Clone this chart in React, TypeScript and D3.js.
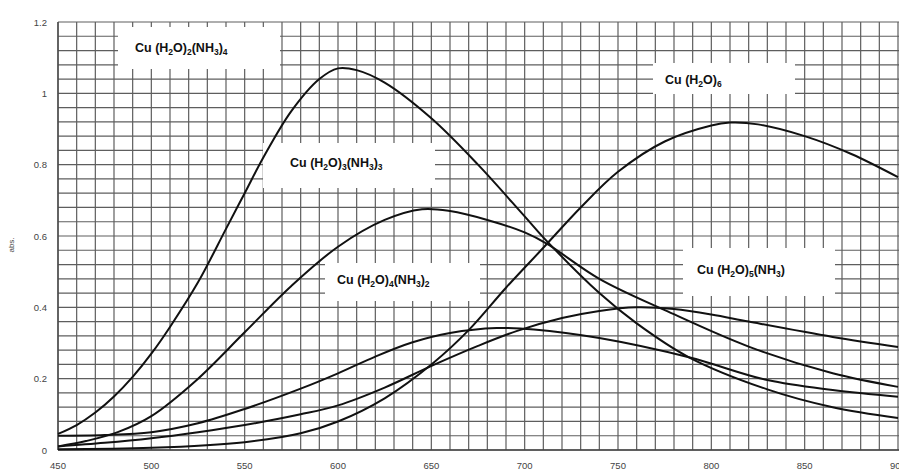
import React from 'react'
import * as d3 from 'd3'

// wavelength (nm) / absorbance pairs
const cuH2O2NH34: [number, number][] = [
  [450, 0.045], [460, 0.07], [470, 0.105], [480, 0.15], [490, 0.205], [500, 0.27],
  [510, 0.345], [525, 0.47], [540, 0.62], [550, 0.72], [560, 0.82], [575, 0.95],
  [590, 1.04], [600, 1.07], [610, 1.065], [625, 1.03], [650, 0.93], [675, 0.8],
  [700, 0.655], [712, 0.585], [740, 0.44], [760, 0.355], [788, 0.26], [830, 0.17],
  [865, 0.12], [900, 0.09],
]
const cuH2O3NH33: [number, number][] = [
  [450, 0.01], [465, 0.025], [482, 0.05], [500, 0.095], [524, 0.195], [550, 0.33],
  [575, 0.46], [600, 0.57], [625, 0.645], [645, 0.675], [660, 0.67], [680, 0.645],
  [700, 0.61], [712, 0.578], [740, 0.48], [776, 0.39], [820, 0.29], [865, 0.215], [900, 0.177],
]
const cuH2O4NH32: [number, number][] = [
  [450, 0.04], [475, 0.042], [500, 0.05], [525, 0.075], [550, 0.115], [580, 0.172],
  [600, 0.215], [620, 0.262], [640, 0.302], [660, 0.328], [685, 0.342], [705, 0.338],
  [740, 0.314], [788, 0.26], [830, 0.196], [865, 0.168], [900, 0.149],
]
const cuH2O5NH3: [number, number][] = [
  [450, 0.01], [475, 0.02], [500, 0.033], [525, 0.05], [550, 0.07], [580, 0.1],
  [600, 0.125], [625, 0.175], [651, 0.238], [675, 0.292], [696, 0.334], [720, 0.37],
  [740, 0.39], [760, 0.4], [780, 0.395], [800, 0.38], [820, 0.36], [865, 0.317], [900, 0.289],
]
const cuH2O6: [number, number][] = [
  [450, 0.002], [500, 0.006], [550, 0.022], [580, 0.047], [600, 0.08], [625, 0.145],
  [651, 0.244], [670, 0.336], [690, 0.455], [710, 0.567], [730, 0.68], [750, 0.78],
  [775, 0.865], [800, 0.91], [810, 0.918], [825, 0.913], [850, 0.88], [875, 0.83], [900, 0.765],
]

const seriesList = [cuH2O2NH34, cuH2O3NH33, cuH2O4NH32, cuH2O5NH3, cuH2O6]

const xTicks = [450, 500, 550, 600, 650, 700, 750, 800, 850, 900]
const yTicks = [0, 0.2, 0.4, 0.6, 0.8, 1, 1.2]

// label text: [text, isSubscript]
const labelNames: [string, boolean][][] = [
  [['Cu (H', false], ['2', true], ['O)', false], ['2', true], ['(NH', false], ['3', true], [')', false], ['4', true]],
  [['Cu (H', false], ['2', true], ['O)', false], ['3', true], ['(NH', false], ['3', true], [')', false], ['3', true]],
  [['Cu (H', false], ['2', true], ['O)', false], ['4', true], ['(NH', false], ['3', true], [')', false], ['2', true]],
  [['Cu (H', false], ['2', true], ['O)', false], ['6', true]],
  [['Cu (H', false], ['2', true], ['O)', false], ['5', true], ['(NH', false], ['3', true], [')', false]],
]
// box x, y, w, h and text x, baseline
const labelLayout = [
  { bx: 118, by: 27, bw: 162, bh: 42, tx: 135, ty: 52 },
  { bx: 263, by: 143, bw: 172, bh: 45, tx: 290, ty: 167 },
  { bx: 325, by: 263, bw: 155, bh: 38, tx: 337, ty: 284 },
  { bx: 653, by: 63, bw: 142, bh: 31, tx: 665, ty: 84 },
  { bx: 683, by: 248, bw: 152, bh: 48, tx: 697, ty: 274 },
]

const W = 899
const H = 476

export default function App() {
  const x = d3.scaleLinear().domain([450, 900]).range([58, 898])
  const y = d3.scaleLinear().domain([0, 1.2]).range([450, 22])

  const line = d3.line<[number, number]>()
    .x(d => x(d[0]))
    .y(d => y(d[1]))
    .curve(d3.curveCatmullRom.alpha(0.5))

  const vGrid = d3.range(450, 901, 10)
  const hGrid = d3.range(0, 31).map(i => i * 0.04)

  return (
    <svg width={W} height={H} style={{ position: 'absolute', left: 0, top: 0, background: '#fff' }}
      fontFamily="'Liberation Sans', Arial, sans-serif">
      <defs>
        <clipPath id="plot">
          <rect x={57} y={18} width={W - 57} height={434} />
        </clipPath>
      </defs>
      <g stroke="#5e5e5e" strokeWidth={1.2}>
        {vGrid.map(v => (
          <line key={'v' + v} x1={x(v)} x2={x(v)} y1={y(1.2)} y2={y(0)} />
        ))}
        {hGrid.map(v => (
          <line key={'h' + v} x1={x(450)} x2={W} y1={y(v)} y2={y(v)} />
        ))}
      </g>
      <line x1={x(450)} x2={x(450)} y1={y(1.2)} y2={y(0)} stroke="#444" strokeWidth={1.3} />
      <line x1={x(450)} x2={W} y1={y(0)} y2={y(0)} stroke="#444" strokeWidth={1.3} />
      <g fill="#fff">
        {labelLayout.map((b, i) => (
          <rect key={i} x={b.bx} y={b.by} width={b.bw} height={b.bh} />
        ))}
      </g>
      <g clipPath="url(#plot)" fill="none" stroke="#111" strokeWidth={2}>
        {seriesList.map((s, i) => (
          <path key={i} d={line(s) || ''} />
        ))}
      </g>
      {labelNames.map((parts, i) => {
        const b = labelLayout[i]
        let shift = 0
        return (
          <text key={i} x={b.tx} y={b.ty} fontSize={12.5} fontWeight="bold" fill="#111">
            {parts.map(([t, sub], j) => {
              const target = sub ? 2.5 : 0
              const dy = target - shift
              shift = target
              return (
                <tspan key={j} dy={dy} fontSize={sub ? 8.5 : 12.5}>{t}</tspan>
              )
            })}
          </text>
        )
      })}
      <g fontSize={9.5} fill="#444">
        {xTicks.map(t => (
          <text key={t} x={x(t)} y={469} textAnchor="middle">{t}</text>
        ))}
        {yTicks.map(t => (
          <text key={t} x={47} y={y(t) + 3.5} textAnchor="end">{t}</text>
        ))}
      </g>
      <text transform={`translate(14,${245}) rotate(-90)`} fontSize={8} fill="#444" textAnchor="middle">abs.</text>
    </svg>
  )
}
